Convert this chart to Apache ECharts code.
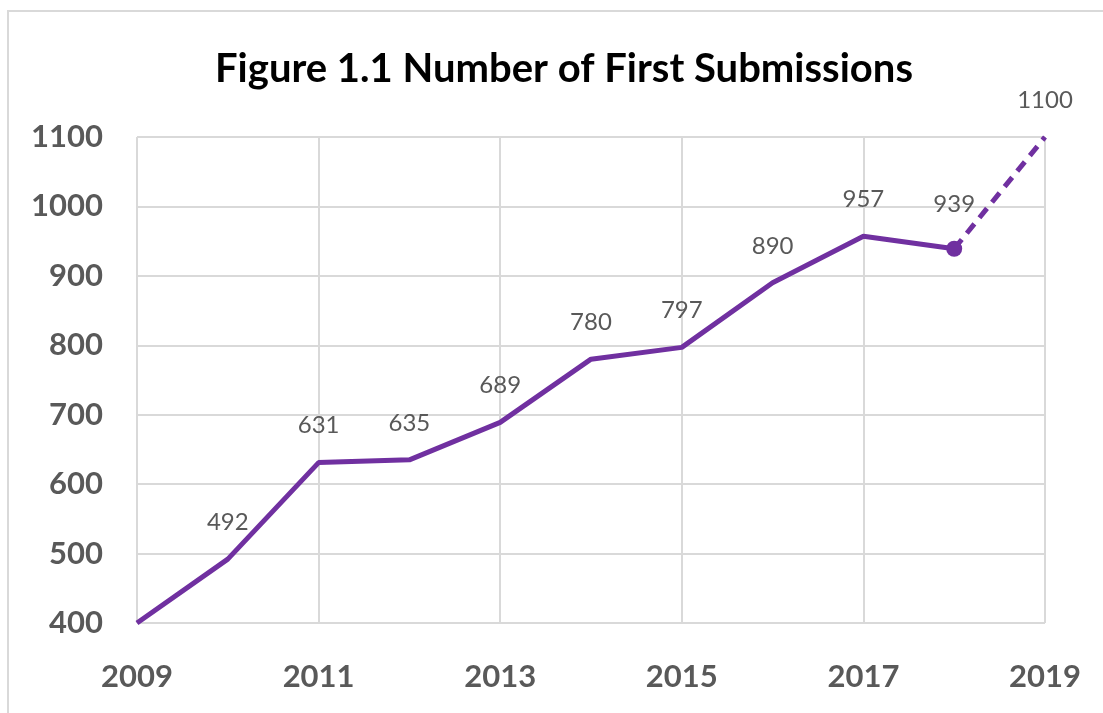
<!DOCTYPE html>
<html>
<head>
<meta charset="utf-8">
<script src="https://cdn.jsdelivr.net/npm/echarts@6/dist/echarts.min.js"></script>
<style>
html,body{margin:0;padding:0;background:#fff;}
#chart{width:1103px;height:713px;}
</style>
</head>
<body>
<div id="chart"></div>
<script>
const years = ['2009','2010','2011','2012','2013','2014','2015','2016','2017','2018','2019'];
const actual = [400, 492, 631, 635, 689, 780, 797, 890, 957, 939, null];
const projected = [null, null, null, null, null, null, null, null, null, 939, 1100];
const titleText = 'Figure 1.1 Number of First Submissions';

const purple = '#7030A0';
const gray = '#595959';
const font = 'Lato, "Open Sans", sans-serif';

const chart = echarts.init(document.getElementById('chart'));
chart.setOption({
  backgroundColor: '#fff',
  animation: false,
  title: {
    text: titleText,
    left: 210,
    top: 44,
    textStyle: { fontFamily: font, fontSize: 40, fontWeight: 'bold', color: '#000' }
  },
  graphic: [{
    type: 'rect',
    shape: { x: 8, y: 11, width: 1110, height: 720 },
    style: { fill: 'none', stroke: '#d9d9d9', lineWidth: 2 },
    silent: true
  }],
  grid: { left: 137, right: 58, top: 137, bottom: 90, containLabel: false },
  xAxis: {
    type: 'category',
    data: years,
    boundaryGap: false,
    axisLine: { show: false },
    axisTick: { show: false },
    axisLabel: {
      interval: 1, margin: 38,
      fontFamily: font, fontSize: 31, fontWeight: 'bold', color: gray
    },
    splitLine: { show: true, interval: 1, lineStyle: { color: '#d9d9d9', width: 2 } }
  },
  yAxis: {
    type: 'value',
    min: 400, max: 1100, interval: 100,
    axisLine: { show: false },
    axisTick: { show: false },
    axisLabel: {
      margin: 34,
      formatter: v => String(v),
      fontFamily: font, fontSize: 31, fontWeight: 'bold', color: gray
    },
    splitLine: { show: true, lineStyle: { color: '#d9d9d9', width: 2 } }
  },
  series: [
    {
      type: 'line',
      data: projected,
      symbol: 'circle',
      symbolSize: 0,
      connectNulls: false,
      lineStyle: { color: purple, width: 5, type: [12, 8] },
      itemStyle: { color: purple },
      label: {
        show: true, position: 'top', distance: 25,
        fontFamily: font, fontSize: 24, color: gray,
        formatter: p => p.dataIndex === 10 ? String(p.value) : ''
      },
      z: 2
    },
    {
      type: 'line',
      data: actual,
      symbol: 'circle',
      symbolSize: (v, p) => p.dataIndex === 9 ? 16 : 0,
      lineStyle: { color: purple, width: 5 },
      itemStyle: { color: purple },
      label: {
        show: true, position: 'top', distance: 25,
        fontFamily: font, fontSize: 24, color: gray,
        formatter: p => p.dataIndex === 0 ? '' : String(p.value)
      },
      z: 3
    }
  ]
});
</script>
</body>
</html>
